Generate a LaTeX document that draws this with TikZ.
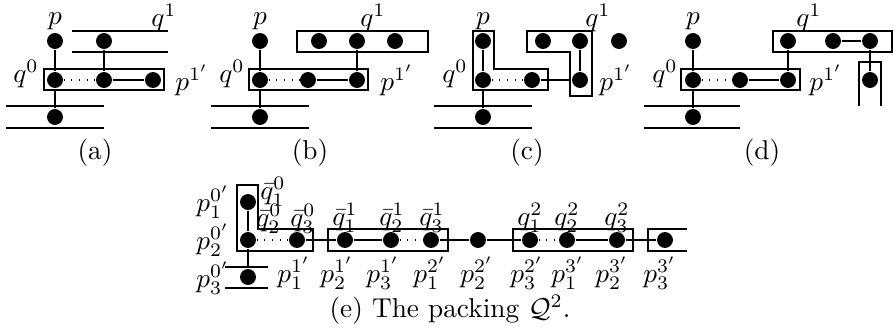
\documentclass[tikz,border=0pt]{standalone}
\usepackage{amsmath}
\begin{document}
\begin{tikzpicture}[x=0.3077pt, y=-0.3077pt,
    dot/.style={circle, fill=black, inner sep=0pt, minimum size=4.9pt},
    lbl/.style={inner sep=0pt, scale=0.84},
    frame/.style={draw, line width=0.35pt},
    link/.style={line width=0.35pt},
    dotlink/.style={line width=0.35pt, dotted}]
    \useasboundingbox (0,0) rectangle (894,330);

    % (a)
    \draw[frame] (72,31) -- (168,31) (72,52) -- (168,52);
    \draw[frame] (44,69) rectangle (164,90);
    \draw[frame] (6,106) -- (104,106) (6,128) -- (104,128);
    \node[dot] (a1) at (55,41) {};
    \node[dot] (a2) at (104,41) {};
    \node[dot] (a3) at (55,80) {};
    \node[dot] (a4) at (104,80) {};
    \node[dot] (a5) at (153,80) {};
    \node[dot] (a6) at (55,117) {};
    \draw[link] (a1) -- (a3) -- (a6);
    \draw[link] (a2) -- (a4) -- (a5);
    \draw[dotlink] (a3) -- (a4);
    \node[lbl] at (55,21) {$p$};
    \node[lbl] at (164,18) {$q^1$};
    \node[lbl] at (26,74) {$q^0$};
    \node[lbl] at (192,80) {$p^{1'}$};
    \node[lbl] at (95,153) {(a)};

    % (b)
    \draw[frame] (297,31) rectangle (428,52);
    \draw[frame] (249,69) rectangle (368,90);
    \draw[frame] (211,106) -- (309,106) (211,128) -- (309,128);
    \node[dot] (b1) at (260,41) {};
    \node[dot] (b2) at (319,41) {};
    \node[dot] (b3) at (357,41) {};
    \node[dot] (b4) at (395,41) {};
    \node[dot] (b5) at (260,80) {};
    \node[dot] (b6) at (308,80) {};
    \node[dot] (b7) at (357,80) {};
    \node[dot] (b8) at (260,117) {};
    \draw[link] (b1) -- (b5) -- (b8);
    \draw[link] (b6) -- (b7) -- (b3);
    \draw[dotlink] (b5) -- (b6);
    \node[lbl] at (260,21) {$p$};
    \node[lbl] at (373,18) {$q^1$};
    \node[lbl] at (232,74) {$q^0$};
    \node[lbl] at (397,80) {$p^{1'}$};
    \node[lbl] at (310,153) {(b)};

    % (c)
    \draw[frame] (473,31) -- (494,31) -- (494,69) -- (548,69) -- (548,90) -- (473,90) -- cycle;
    \draw[frame] (527,31) -- (592,31) -- (592,96) -- (570,96) -- (570,52) -- (527,52) -- cycle;
    \draw[frame] (434,106) -- (532,106) (434,128) -- (532,128);
    \node[dot] (c1) at (483,41) {};
    \node[dot] (c2) at (543,41) {};
    \node[dot] (c3) at (580,41) {};
    \node[dot] (c4) at (619,41) {};
    \node[dot] (c5) at (483,80) {};
    \node[dot] (c6) at (532,80) {};
    \node[dot] (c7) at (580,80) {};
    \node[dot] (c8) at (483,117) {};
    \draw[link] (c1) -- (c5) -- (c8);
    \draw[link] (c6) -- (c7) -- (c3);
    \draw[dotlink] (c5) -- (c6);
    \node[lbl] at (483,21) {$p$};
    \node[lbl] at (598,18) {$q^1$};
    \node[lbl] at (455,74) {$q^0$};
    \node[lbl] at (616,80) {$p^{1'}$};
    \node[lbl] at (527,153) {(c)};

    % (d)
    \draw[frame] (773,31) rectangle (892,52);
    \draw[frame] (681,69) rectangle (800,90);
    \draw[frame] (859,106) -- (859,62) -- (881,62) -- (881,106);
    \draw[frame] (644,106) -- (740,106) (644,128) -- (740,128);
    \node[dot] (d1) at (693,41) {};
    \node[dot] (d2) at (788,41) {};
    \node[dot] (d3) at (833,41) {};
    \node[dot] (d4) at (870,41) {};
    \node[dot] (d5) at (693,80) {};
    \node[dot] (d6) at (740,80) {};
    \node[dot] (d7) at (788,80) {};
    \node[dot] (d8) at (870,80) {};
    \node[dot] (d9) at (693,117) {};
    \draw[link] (d1) -- (d5) -- (d9);
    \draw[link] (d6) -- (d7) -- (d2);
    \draw[link] (d3) -- (d4) -- (d8);
    \draw[dotlink] (d5) -- (d6);
    \node[lbl] at (693,21) {$p$};
    \node[lbl] at (809,18) {$q^1$};
    \node[lbl] at (665,74) {$q^0$};
    \node[lbl] at (826,80) {$p^{1'}$};
    \node[lbl] at (762,153) {(d)};

    % (e)
    \draw[frame] (237,185) -- (258,185) -- (258,229) -- (313,229) -- (313,251) -- (237,251) -- cycle;
    \draw[frame] (328,229) rectangle (448,251);
    \draw[frame] (513,229) rectangle (633,251);
    \draw[frame] (687,229) -- (648,229) -- (648,251) -- (687,251);
    \draw[frame] (225,267) -- (268,267) (225,288) -- (268,288);
    \node[dot] (e1) at (248,202) {};
    \node[dot] (e2) at (248,240) {};
    \node[dot] (e3) at (297,240) {};
    \node[dot] (e4) at (345,240) {};
    \node[dot] (e5) at (391,240) {};
    \node[dot] (e6) at (431,240) {};
    \node[dot] (e7) at (478,240) {};
    \node[dot] (e8) at (530,240) {};
    \node[dot] (e9) at (567,240) {};
    \node[dot] (e10) at (617,240) {};
    \node[dot] (e11) at (665,240) {};
    \node[dot] (e12) at (248,277) {};
    \draw[link] (e1) -- (e2) -- (e12);
    \draw[link] (e3) -- (e4) -- (e5);
    \draw[link] (e6) -- (e7) -- (e8);
    \draw[link] (e9) -- (e10) -- (e11);
    \draw[dotlink] (e2) -- (e3);
    \draw[dotlink] (e5) -- (e6);
    \draw[dotlink] (e8) -- (e9);
    \node[lbl] at (213,202) {$p_1^{0'}$};
    \node[lbl] at (213,240) {$p_2^{0'}$};
    \node[lbl] at (213,278) {$p_3^{0'}$};
    \node[lbl] at (273,192) {$\bar q_1^0$};
    \node[lbl] at (269,219) {$\bar q_2^0$};
    \node[lbl] at (303,219) {$\bar q_3^0$};
    \node[lbl] at (345,218) {$\bar q_1^1$};
    \node[lbl] at (392,218) {$\bar q_2^1$};
    \node[lbl] at (432,218) {$\bar q_3^1$};
    \node[lbl] at (530,218) {$q_1^2$};
    \node[lbl] at (567,218) {$q_2^2$};
    \node[lbl] at (617,218) {$q_3^2$};
    \node[lbl] at (294,273) {$p_1^{1'}$};
    \node[lbl] at (337,273) {$p_2^{1'}$};
    \node[lbl] at (383,273) {$p_3^{1'}$};
    \node[lbl] at (430,273) {$p_1^{2'}$};
    \node[lbl] at (477,273) {$p_2^{2'}$};
    \node[lbl] at (527,273) {$p_3^{2'}$};
    \node[lbl] at (568,273) {$p_1^{3'}$};
    \node[lbl] at (612,273) {$p_2^{3'}$};
    \node[lbl] at (660,273) {$p_3^{3'}$};
    \node[lbl] at (450,310) {(e) The packing $\mathcal{Q}^2$.};
\end{tikzpicture}
\end{document}
